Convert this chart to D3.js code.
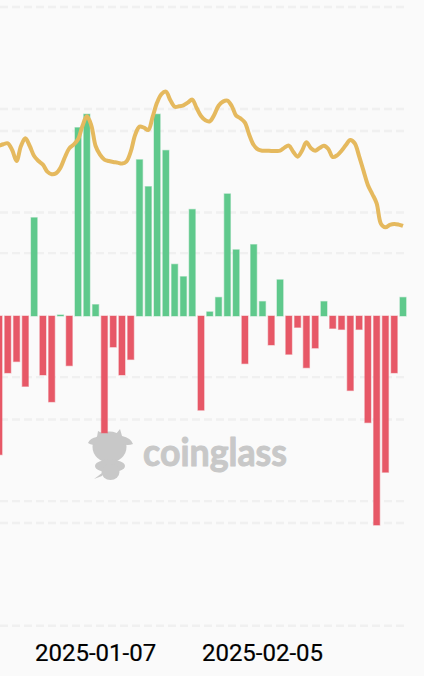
<!doctype html>
<html>
  <head>
    <meta charset="utf-8">
    <title>Coinglass flow chart</title>
    <script src="https://cdnjs.cloudflare.com/ajax/libs/d3/7.8.5/d3.min.js"></script>
    <style>
      html, body { margin: 0; padding: 0; background: #fafafa; overflow: hidden; }
      svg { display: block; }
    </style>
  </head>
  <body>
    <div id="chart"></div>

    <script>
      // bar values, one per period (no axis labels shown, so units are relative)
      const flows = [
        -134, -55, -44, -68, 95, -57, -83, 1, -48, 182, 195, 11,
        -113, -30, -57, -42, 151, 125, 195, 160, 50, 38, 103, -91,
        4, 18, 118, 64, -46, 69, 14, -28, 35, -37, -11, -50,
        -31, 14, -12, -13, -72, -13, -103, -202, -151, -55, 18
      ];

      // price line, read every half period
      const prices = [
        98820, 98930, 99010, 98470, 97580, 98790, 99410, 98790, 97980, 97580,
        97290, 96720, 96510, 96590, 97040, 97880, 98600, 98900, 99330, 100400,
        101180, 100480, 98790, 98090, 97690, 97580, 97500, 97450, 97370, 97530,
        98330, 99680, 100350, 100270, 100080, 101160, 102290, 102980, 103170, 102500,
        101960, 101990, 102070, 102290, 102530, 101860, 101210, 100860, 100780, 101290,
        102040, 102370, 102450, 102020, 101240, 101020, 100670, 99680, 98870, 98500,
        98410, 98410, 98390, 98390, 98410, 98660, 98820, 98330, 97930, 98410,
        99090, 98630, 98410, 98630, 98820, 98550, 97900, 98040, 98410, 98870,
        99280, 99010, 97980, 96800, 95650, 94920, 94170, 92500, 92230, 92420,
        92500, 92450, 92340
      ];

      const tickIndex = [11, 30];
      const tickLabels = ['2025-01-07', '2025-02-05'];
      const flowTicks = [-200, -100, 100, 200];
      const priceTicks = [110000, 100000, 90150, 80150, 70150, 60100];

      const width = 424, height = 676;

      const x = d3.scaleLinear().domain([0, flows.length - 1]).range([-1, 403]);
      const yFlow = d3.scaleLinear().domain([-300, 300]).range([626.5, 5.5]);
      const yPrice = d3.scaleLinear().domain([60000, 110000]).range([627, 7]);
      const barWidth = (x(1) - x(0)) * 0.7;

      const svg = d3.select('#chart')
        .append('svg')
        .attr('width', width)
        .attr('height', height);

      // grid lines from both hidden axes
      const gridY = flowTicks.map(d => yFlow(d)).concat(priceTicks.map(d => yPrice(d)));
      svg.append('g')
        .selectAll('line')
        .data(gridY)
        .join('line')
        .attr('x1', 0)
        .attr('x2', 404)
        .attr('y1', d => d)
        .attr('y2', d => d)
        .attr('stroke', '#f0f0f0')
        .attr('stroke-width', 2.4)
        .attr('stroke-dasharray', '8 4');

      // watermark goes under the bars
      const mark = svg.append('g').attr('fill', '#c8c8c8');
      mark.append('ellipse').attr('cx', 109.5).attr('cy', 447).attr('rx', 17).attr('ry', 15.5);
      mark.append('ellipse').attr('cx', 110).attr('cy', 466).attr('rx', 15).attr('ry', 6.5);
      mark.append('ellipse').attr('cx', 110.5).attr('cy', 472).attr('rx', 9).attr('ry', 8);
      mark.append('path')
        .attr('d', 'M88 443 Q90 438 97 437 L98 431 L104 434 L116 434 L120 429 L122 436 Q131 438 133 444 Q128 446 122 444 L96 444 Q92 446 88 443 Z M94 479 L102 473 L102 476 Z');
      mark.append('text')
        .attr('x', 143)
        .attr('y', 466)
        .attr('font-family', 'Lato')
        .attr('font-weight', 700)
        .attr('font-size', 39)
        .attr('textLength', 144)
        .attr('lengthAdjust', 'spacingAndGlyphs')
        .attr('stroke', '#c8c8c8')
        .attr('stroke-width', 1)
        .attr('stroke-linejoin', 'round')
        .text('coinglass');

      svg.append('g')
        .selectAll('rect')
        .data(flows)
        .join('rect')
        .attr('x', (d, i) => x(i) - barWidth / 2)
        .attr('y', d => yFlow(Math.max(d, 0)))
        .attr('width', barWidth)
        .attr('height', d => Math.abs(yFlow(d) - yFlow(0)))
        .attr('fill', d => d >= 0 ? '#5fc98c' : '#e75867')
        .attr('stroke', d => d >= 0 ? '#5fc98c' : '#e75867')
        .attr('stroke-opacity', 0.4)
        .attr('stroke-width', 1.2);

      const line = d3.line()
        .x((d, i) => x(i / 2))
        .y(d => yPrice(d))
        .curve(d3.curveCatmullRom.alpha(0.5));

      svg.append('path')
        .datum(prices)
        .attr('d', line)
        .attr('fill', 'none')
        .attr('stroke', '#e5b95e')
        .attr('stroke-width', 4)
        .attr('stroke-linejoin', 'round');

      // date labels, axis line and tick marks are not drawn in the original
      const axis = d3.axisBottom(x)
        .tickValues(tickIndex)
        .tickFormat((d, i) => tickLabels[i])
        .tickSize(0)
        .tickPadding(0);

      const axisG = svg.append('g')
        .attr('transform', 'translate(-0.5,643)')
        .call(axis);
      axisG.select('.domain').remove();
      axisG.selectAll('text')
        .attr('dy', 0)
        .attr('y', 18)
        .attr('fill', '#000')
        .attr('stroke', '#000')
        .attr('stroke-width', 0.2)
        .attr('font-family', 'Roboto')
        .attr('font-weight', 400)
        .attr('font-size', 24);
    </script>
  </body>
</html>
